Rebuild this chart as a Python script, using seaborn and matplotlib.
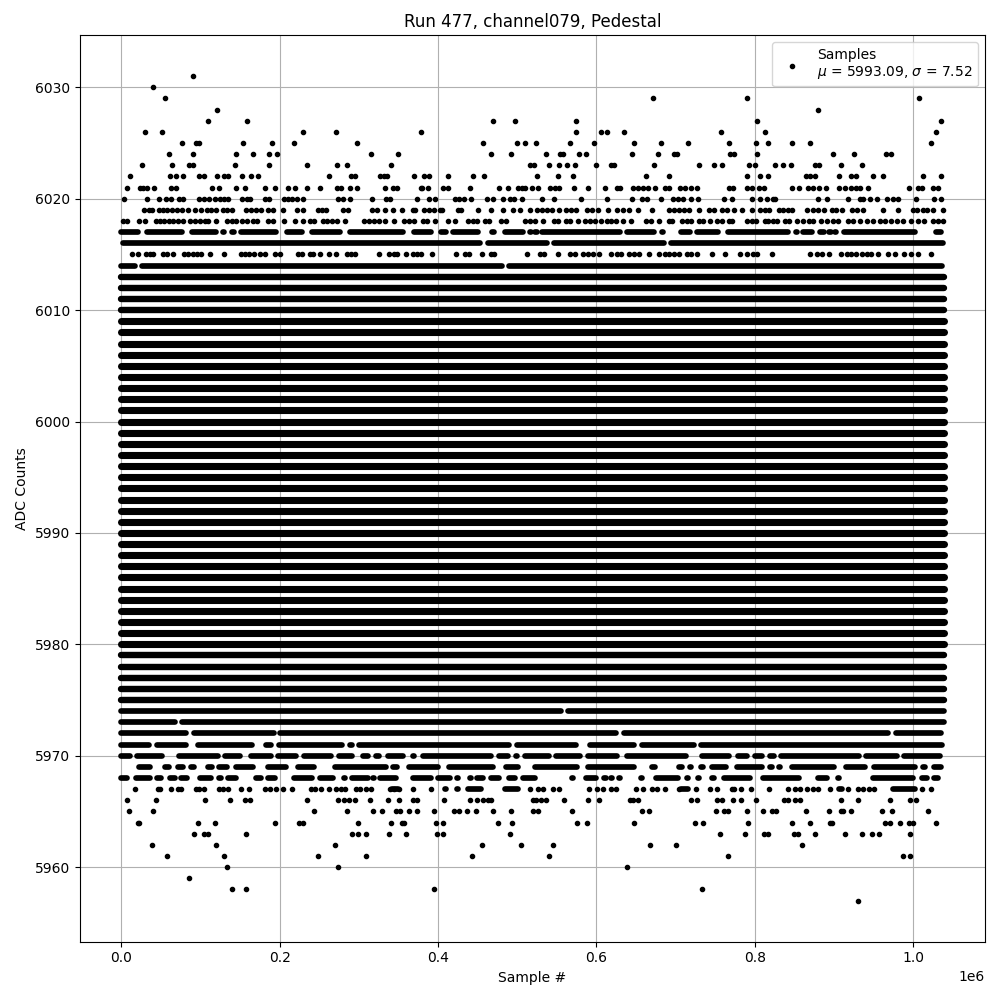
import numpy as np
import pandas as pd
import matplotlib
matplotlib.use('Agg')
import matplotlib.pyplot as plt
import seaborn as sns

#Single samples, in thousands of samples, one list per ADC level
s6031 = [91]
s6030 = [40]
s6029 = [55, 672, 790, 1007]
s6028 = [121, 880]
s6027 = [110, 159, 470, 497, 574, 803, 1035]
s6026 = [30, 52, 229, 271, 379, 574, 606, 613, 635, 757, 813, 1029]
s6025 = [77, 94, 98, 154, 190, 218, 298, 457, 500, 510, 524, 567, 597, 648, 682, 715, 768, 802, 817, 847, 869, 1022]
s6024 = [60, 91, 145, 166, 187, 197, 315, 349, 467, 492, 536, 554, 558, 578, 587, 645, 678, 698, 702, 769, 774, 803,
         899, 925, 966, 972]
s6023 = [26, 64, 86, 91, 144, 187, 234, 273, 285, 341, 516, 521, 540, 553, 563, 573, 600, 619, 622, 673, 729, 748,
         758, 792, 800, 825, 836, 846, 876, 881, 909, 935]
s6022 = [11, 62, 69, 78, 98, 105, 121, 130, 135, 153, 164, 173, 262, 290, 295, 327, 332, 335, 370, 382, 389, 413,
         444, 458, 525, 551, 570, 663, 691, 790, 806, 817, 865, 869, 876, 906, 922, 928, 949, 962, 1012, 1035]
s6021 = [8, 24, 27, 33, 41, 63, 69, 115, 123, 145, 156, 182, 194, 211, 219, 234, 251, 273, 277, 289, 298, 333, 343,
         348, 378, 380, 387, 406, 412, 440, 477, 488, 501, 506, 510, 519, 526, 541, 548, 553, 572, 589, 611, 626, 630,
         646, 653, 659, 665, 674, 686, 691, 706, 712, 720, 727, 768, 772, 790, 796, 805, 812, 847, 856, 867, 873, 881,
         890, 906, 914, 922, 928, 933, 943, 995, 1006, 1011, 1025, 1031]
s6020 = [4, 32, 48, 57, 63, 73, 78, 98, 104, 111, 119, 125, 130, 135, 153, 159, 163, 182, 187, 205, 210, 216, 222,
         229, 274, 280, 289, 317, 334, 340, 374, 389, 396, 421, 426, 433, 442, 462, 469, 482, 491, 496, 506, 531, 546,
         581, 613, 645, 657, 664, 681, 697, 703, 709, 720, 728, 761, 771, 797, 806, 815, 823, 826, 880, 891, 917, 933,
         937, 945, 954, 967, 974, 981, 1003, 1026, 1035]
s6019 = [29, 35, 39, 48, 53, 58, 64, 71, 77, 85, 93, 101, 108, 114, 120, 128, 133, 140, 157, 164, 170, 176, 186, 192,
         204, 222, 229, 248, 253, 259, 280, 287, 317, 323, 333, 343, 355, 368, 371, 382, 389, 395, 402, 405, 425, 429,
         450, 467, 482, 495, 503, 516, 525, 531, 537, 544, 553, 562, 568, 574, 588, 595, 602, 615, 626, 634, 641, 653,
         670, 691, 698, 704, 710, 717, 730, 742, 748, 758, 765, 774, 784, 797, 806, 813, 818, 830, 836, 842, 847, 866,
         874, 880, 887, 897, 902, 910, 923, 929, 937, 962, 981, 1000, 1005, 1012, 1017, 1025, 1037]
s6018 = [2, 8, 23, 30, 44, 49, 54, 60, 66, 72, 78, 87, 93, 99, 106, 110, 120, 134, 140, 145, 153, 159, 166, 172, 186,
         192, 205, 219, 230, 238, 244, 255, 260, 266, 273, 282, 307, 313, 319, 326, 333, 345, 357, 364, 370, 381, 386,
         396, 412, 421, 438, 444, 449, 459, 465, 479, 486, 510, 516, 522, 532, 546, 551, 562, 567, 577, 586, 592, 598,
         606, 613, 619, 625, 634, 644, 663, 669, 679, 691, 696, 708, 714, 720, 729, 735, 743, 752, 759, 767, 771, 790,
         796, 802, 813, 817, 823, 828, 838, 843, 853, 861, 868, 874, 884, 891, 899, 905, 917, 924, 933, 941, 949, 958,
         964, 972, 979, 987, 997, 1006, 1014, 1025, 1031, 1037]
s6015 = [14, 21, 31, 36, 40, 53, 58, 66, 79, 85, 91, 96, 101, 112, 130, 151, 156, 162, 168, 175, 181, 194, 200, 223,
         228, 239, 242, 251, 262, 271, 285, 290, 295, 326, 338, 345, 348, 359, 368, 374, 379, 392, 423, 434, 439, 455,
         467, 471, 512, 529, 534, 551, 567, 573, 583, 589, 596, 603, 619, 626, 631, 641, 648, 654, 667, 679, 686, 692,
         698, 704, 714, 719, 727, 746, 762, 781, 790, 798, 803, 822, 869, 878, 885, 893, 909, 916, 922, 928, 935, 941,
         947, 956, 968, 977, 988, 997, 1006, 1023]
s5967 = [17, 46, 49, 63, 72, 76, 94, 98, 104, 123, 129, 135, 151, 161, 181, 188, 195, 204, 216, 240, 245, 252, 262,
         271, 277, 282, 296, 302, 309, 315, 340, 345, 351, 369, 391, 516, 526, 532, 545, 553, 591, 601, 608, 619, 625,
         650, 659, 670, 677, 687, 704, 726, 743, 752, 771, 774, 782, 795, 818, 842, 851, 857, 866, 873, 880, 895, 918,
         930, 937, 944, 950, 1011, 1022]
s5966 = [7, 44, 106, 137, 156, 163, 234, 274, 281, 288, 295, 314, 337, 351, 369, 374, 408, 441, 449, 457, 463, 467,
         520, 524, 530, 536, 559, 589, 603, 643, 646, 653, 720, 727, 752, 758, 773, 782, 801, 837, 842, 851, 857, 909,
         930, 971, 996, 1003]
s5965 = [10, 40, 243, 285, 318, 329, 347, 352, 363, 373, 395, 420, 426, 436, 448, 469, 492, 520, 526, 569, 658, 667,
         751, 761, 766, 790, 810, 822, 827, 864, 893, 909, 911, 922, 961, 973, 1018]
s5964 = [21, 23, 97, 119, 194, 225, 230, 299, 341, 354, 357, 397, 406, 476, 493, 576, 588, 648, 725, 734, 791, 847,
         870, 895, 898, 964, 971, 983, 995, 1000, 1029]
s5963 = [92, 104, 110, 158, 291, 299, 309, 338, 360, 399, 406, 491, 756, 787, 811, 816, 849, 855, 876, 914, 935, 948,
         957, 996]
s5962 = [39, 120, 270, 455, 505, 545, 668, 701, 860]
s5961 = [58, 130, 248, 309, 443, 540, 766, 987, 996]
s5960 = [133, 274, 639]
s5959 = [86]
s5958 = [140, 158, 395, 733]
s5957 = [930]

sparse_levels = [6031, 6030, 6029, 6028, 6027, 6026, 6025, 6024, 6023, 6022, 6021, 6020, 6019, 6018, 6015,
                 5967, 5966, 5965, 5964, 5963, 5962, 5961, 5960, 5959, 5958, 5957]
sparse_lists = [s6031, s6030, s6029, s6028, s6027, s6026, s6025, s6024, s6023, s6022, s6021, s6020, s6019, s6018,
                s6015, s5967, s5966, s5965, s5964, s5963, s5962, s5961, s5960, s5959, s5958, s5957]

#Stretches where the dots merge, as (first, last) outer edges
r6017 = [(-4, 25), (29, 80), (86, 123), (125, 133), (137, 146), (148, 199), (206, 232), (238, 280), (285, 359),
         (366, 394), (400, 414), (416, 454), (465, 474), (481, 511), (514, 519), (521, 526), (528, 633), (635, 676),
         (679, 688), (704, 721), (723, 757), (763, 845), (850, 855), (858, 875), (879, 891), (893, 897), (899, 905),
         (909, 1006), (1007, 1015), (1025, 1039)]
r6016 = [(-1, 457), (460, 541), (543, 689), (691, 1041)]
r6014 = [(-3, 21), (23, 484), (486, 1040)]
r5973 = [(-4, 72), (74, 1042)]
r5974 = [(-4, 559), (561, 1042)]
r5972 = [(-4, 85), (88, 196), (197, 628), (631, 972), (975, 1039)]
r5971 = [(-4, 39), (42, 85), (93, 168), (171, 178), (180, 193), (196, 282), (285, 295), (297, 493), (496, 577),
         (589, 651), (654, 726), (728, 1040)]
r5970 = [(-4, 14), (17, 55), (58, 65), (69, 126), (128, 154), (161, 192), (195, 224), (228, 268), (271, 295),
         (302, 315), (318, 329), (334, 359), (365, 373), (378, 470), (473, 492), (495, 503), (506, 544), (546, 583),
         (586, 630), (635, 716), (730, 771), (775, 794), (797, 813), (816, 828), (830, 935), (937, 983), (985, 1037)]
r5969 = [(6, 13), (19, 40), (41, 47), (52, 64), (68, 82), (85, 95), (106, 118), (120, 137), (142, 170), (173, 180),
         (182, 211), (220, 247), (247, 254), (266, 338), (340, 352), (360, 404), (411, 473), (482, 504), (519, 579),
         (586, 651), (656, 662), (667, 677), (681, 687), (691, 698), (701, 711), (716, 722), (729, 738), (742, 767),
         (774, 812), (816, 825), (828, 834), (844, 903), (912, 943), (947, 1006), (1009, 1018), (1023, 1038)]
r5968 = [(-4, 11), (15, 40), (42, 54), (58, 71), (72, 86), (96, 117), (120, 129), (131, 149), (167, 180), (182, 198),
         (205, 211), (215, 244), (247, 271), (279, 285), (288, 315), (316, 321), (324, 350), (354, 360), (365, 395),
         (397, 419), (422, 428), (438, 444), (446, 460), (463, 480), (486, 500), (504, 526), (527, 533), (567, 573),
         (583, 603), (606, 615), (616, 622), (626, 632), (654, 660), (662, 668), (672, 706), (711, 719), (726, 732),
         (742, 752), (758, 797), (807, 859), (876, 895), (903, 909), (916, 922), (931, 937), (946, 1003), (1007, 1021),
         (1023, 1034)]
r5967 = [(338, 353), (405, 414), (420, 429), (434, 458), (481, 504), (703, 719), (903, 914), (971, 1006)]

run_levels = [6017, 6016, 6014, 5974, 5973, 5972, 5971, 5970, 5969, 5968, 5967]
run_lists = [r6017, r6016, r6014, r5974, r5973, r5972, r5971, r5970, r5969, r5968, r5967]

#Levels that read as one unbroken band from the first sample to the last
core_levels = list(range(5980, 6010))
edge_levels = [5975, 5976, 5977, 5978, 5979, 6010, 6011, 6012, 6013]
first_sample = 0
last_sample = 1038.5

sample_title = 'Run 477, channel079, Pedestal'
mean_counts = 5993.09
std_counts = 7.52

#Tables for seaborn
rows = []
for level, xs in zip(sparse_levels, sparse_lists):
    rows += [(x * 1000, level) for x in xs]
points = pd.DataFrame(rows, columns=['sample', 'adc'])

cap_trim = 3.4  #run ends were read at the outside of the dot
rows = []
run_id = 0
for level, spans in zip(run_levels, run_lists):
    for a, b in spans:
        rows.append((run_id, (a + cap_trim) * 1000, level))
        rows.append((run_id, (b - cap_trim) * 1000, level))
        run_id += 1
runs = pd.DataFrame(rows, columns=['run', 'sample', 'adc'])

def band_table(levels):
    rows = []
    for level in levels:
        rows.append((level, first_sample * 1000, level))
        rows.append((level, last_sample * 1000, level))
    return pd.DataFrame(rows, columns=['run', 'sample', 'adc'])

fig, ax = plt.subplots(figsize=(10, 10), dpi=100)
#the overlapping dots make the busiest rows a bit thicker than one dot
for table, width in [(runs, 4.1), (band_table(edge_levels), 4.6), (band_table(core_levels), 5.1)]:
    sns.lineplot(data=table, x='sample', y='adc', units='run', estimator=None, errorbar=None, sort=False,
                 color='black', linewidth=width, solid_capstyle='round', legend=False, ax=ax)
sns.scatterplot(data=points, x='sample', y='adc', marker='.', s=36, color='black', edgecolor='black',
                linewidth=1, zorder=2, legend=False, ax=ax,
                label='Samples\n$\\mu$ = %.2f, $\\sigma$ = %.2f' % (mean_counts, std_counts))
ax.set_title(sample_title)
ax.set_xlabel('Sample #')
ax.set_ylabel('ADC Counts')
ax.grid(True)
ax.legend(loc='upper right')
fig.tight_layout()
fig.subplots_adjust(top=0.965)
fig.savefig('out.png', dpi=100)
